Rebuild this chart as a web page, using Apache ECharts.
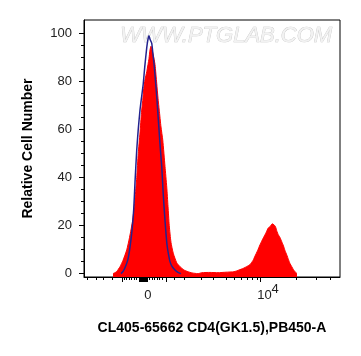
<!DOCTYPE html>
<html>
<head>
<meta charset="utf-8">
<script src="https://cdn.jsdelivr.net/npm/echarts@6/dist/echarts.min.js"></script>
<style>html,body{margin:0;padding:0;background:#fff;}#c{width:361px;height:356px;}</style>
</head>
<body>
<div id="c"></div>
<script>
// Display channel (logicle-scaled, 0..1024) and relative cell number
var redX = [116,130,144,156,171,182,195,204,211,217,224,230,235,239,244,251,256,260,264,268,272,277,284,291,296,301,308,315,324,331,336,341,348,357,371,384,400,416,432,456,472,504,536,568,600,620,637,652,664,676,684,694,704,712,720,728,737,744,753,760,766,772,777,784,791,798,804,811,818,824,831,838,844,852];
var redY = [0,0.8,2.9,5.5,9.9,15,22.4,31,40,50,58.5,67,72,77,80.7,84,87,89.5,93,94.6,93,91,87,79,73,68,61,55.6,44.6,36,28,20,13,8.5,4.5,2.9,1.5,0.8,0.3,0,0.4,0.5,0.4,0.6,0.8,1.5,2.2,3,3.8,5.5,7.3,9.5,12,13.8,15.4,17,19,19.5,20.7,20.3,19.5,17.5,16.2,15,13.3,11.5,9.6,7.8,5.8,4.2,2.9,1.6,0.8,0];
var blueX = [148,157,168,176,184,192,199,204,211,217,224,231,237,243,251,256,260,264,271,276,280,286,291,296,301,306,311,317,322,327,332,338,344,352,364,376,388];
var blueY = [0,1,3.5,6,11,18,27,38,51.5,60,68,74,79,86,94,97.5,99,97.5,95.8,91,87.5,80,73.6,66,58.4,51,44.5,33,25,18,12,8,5,3,1.5,0.5,0];

var xMajorTicks = [151,220,224,228,232,236,240,244,248,252,327,704];
var xMinorTicks = [13,48,77,112,160,170,180,190,200,210,262,272,282,292,302,312,360,400,467,516,567,600,628,653,671,691,848,928,984];
var xLabelValues = [255,704];
var xLabelTexts = ['0','10^4'];
var yMajorTicks = [0,20,40,60,80,100];
var yMinorTicks = [5,10,15,25,30,35,45,50,55,65,70,75,85,90,95];

var xTitle = 'CL405-65662 CD4(GK1.5),PB450-A';
var yTitle = 'Relative Cell Number';
var watermark = 'WWW.PTGLAB.COM';

function pairs(xs, ys){ return xs.map(function(x,i){ return [x, ys[i]]; }); }

var FONT = 'Liberation Sans, Arial, sans-serif';
var chart = echarts.init(document.getElementById('c'), null, {renderer:'canvas'});
var axisBlack = {color:'#000', width:1};

chart.setOption({
  animation:false,
  backgroundColor:'#fff',
  grid:{left:84, right:21, top:20, bottom:79, show:true, borderColor:'#000', borderWidth:1, backgroundColor:'transparent'},
  graphic:[{
    type:'text', left:120, top:25, z:1, silent:true,
    style:{text:watermark, font:'italic 22px ' + FONT, fill:'#f2f2f2', stroke:'#c4c4c4', lineWidth:0.7}
  }],
  xAxis:[{
    type:'value', min:0, max:1024, position:'bottom',
    axisLine:{show:true, onZero:false, lineStyle:axisBlack},
    axisTick:{show:true, length:5, customValues:xMajorTicks, lineStyle:axisBlack},
    axisLabel:{
      customValues:xLabelValues, margin:9, color:'#222', fontFamily:FONT, fontSize:13,
      formatter:function(v){
        var t = xLabelTexts[xLabelValues.indexOf(v)];
        if (t && t.indexOf('^') > 0) { var p = t.split('^'); return '{b|' + p[0] + '}{s|' + p[1] + '}'; }
        return '{z|' + t + '}';
      },
      rich:{
        z:{fontSize:13, lineHeight:13, color:'#222', fontFamily:FONT, padding:[6,0,0,0]},
        b:{fontSize:13, lineHeight:13, color:'#222', fontFamily:FONT, padding:[6,0,0,16]},
        s:{fontSize:13, lineHeight:13, color:'#222', fontFamily:FONT, padding:[0,0,6,0]}
      }
    },
    splitLine:{show:false},
    name:xTitle, nameLocation:'middle', nameGap:44,
    nameTextStyle:{fontFamily:FONT, fontSize:14, fontWeight:'bold', color:'#000'}
  },{
    type:'value', min:0, max:1024, position:'bottom',
    axisLine:{show:false, onZero:false},
    axisTick:{show:true, length:3, customValues:xMinorTicks, lineStyle:axisBlack},
    axisLabel:{show:false}, splitLine:{show:false}
  }],
  yAxis:[{
    type:'value', min:-1.4, max:105.5, position:'left',
    axisLine:{show:true, onZero:false, lineStyle:axisBlack},
    axisTick:{show:true, length:5, customValues:yMajorTicks, lineStyle:axisBlack},
    axisLabel:{customValues:yMajorTicks, margin:12, color:'#222', fontFamily:FONT, fontSize:13},
    splitLine:{show:false},
    name:yTitle, nameLocation:'middle', nameGap:49,
    nameTextStyle:{fontFamily:FONT, fontSize:14, fontWeight:'bold', color:'#000'}
  },{
    type:'value', min:-1.4, max:105.5, position:'left',
    axisLine:{show:false, onZero:false},
    axisTick:{show:true, length:3, customValues:yMinorTicks, lineStyle:axisBlack},
    axisLabel:{show:false}, splitLine:{show:false}
  }],
  series:[{
    type:'line', name:'CD4', xAxisIndex:0, yAxisIndex:0,
    data:pairs(redX, redY), showSymbol:false, symbol:'none', smooth:0.2,
    lineStyle:{color:'#ff0000', width:1}, itemStyle:{color:'#ff0000'},
    areaStyle:{color:'#ff0000', opacity:1, origin:'start'}, z:3
  },{
    type:'line', name:'Control', xAxisIndex:0, yAxisIndex:0,
    data:pairs(blueX, blueY), showSymbol:false, symbol:'none', smooth:0.2,
    lineStyle:{color:'#23238f', width:1.5}, itemStyle:{color:'#23238f'}, z:4
  }]
});
</script>
</body>
</html>
